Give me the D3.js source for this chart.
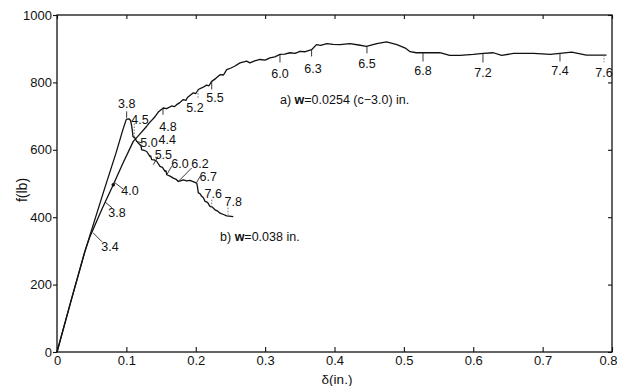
<!DOCTYPE html>
<html><head><meta charset="utf-8">
<script src="https://cdn.jsdelivr.net/npm/d3@7"></script>
<style>body{margin:0;background:#fff}svg{display:block}text{font-family:"Liberation Sans",Arial,sans-serif;fill:#111}</style>
</head><body><svg id="c" width="617" height="386"></svg>
<script>
const xTicks=[0,0.1,0.2,0.3,0.4,0.5,0.6,0.7,0.8];
const xTickLabels=["0","0.1","0.2","0.3","0.4","0.5","0.6","0.7","0.8"];
const yTicks=[0,200,400,600,800,1000];
const yTickLabels=["0","200","400","600","800","1000"];
// curve a: w = 0.0254 (c-3.0) in.
const curveA=[[0,0],[0.02,150],[0.04,297],[0.0476,343],[0.065,425],[0.0811,496],[0.095,560],[0.11,625],[0.12,648],[0.1293,670],[0.134,682],[0.14,695],[0.146,712],[0.1532,724],[0.158,722],[0.1653,730],[0.169,728],[0.1725,734],[0.177,740],[0.182,749],[0.186,747],[0.188,755],[0.1965,769],[0.2,767],[0.2037,779],[0.21,785],[0.2157,792],[0.219,790],[0.223,803],[0.229,812],[0.235,823],[0.24,822],[0.2446,838],[0.25,842],[0.256,848],[0.2638,858],[0.2734,863],[0.278,858],[0.285,864],[0.2926,868],[0.3,866],[0.307,873],[0.314,876],[0.3214,883],[0.328,884],[0.3359,888],[0.343,886],[0.3503,892],[0.358,891],[0.367,897],[0.374,912],[0.38,910],[0.389,915],[0.398,913],[0.408,912],[0.422,915],[0.435,911],[0.446,907],[0.461,915],[0.475,920],[0.49,912],[0.502,902],[0.509,891],[0.518,888],[0.528,888],[0.552,888],[0.566,880],[0.581,880],[0.6,883],[0.6145,886],[0.629,888],[0.641,880],[0.658,886],[0.687,886],[0.711,883],[0.725,886],[0.742,890],[0.763,881],[0.792,881]];
// curve b: w = 0.038 in.
const curveB=[[0,0],[0.02,150],[0.04,297],[0.068,481],[0.085,590],[0.095,660],[0.0995,688],[0.1005,691],[0.104,692],[0.106,687],[0.1077,670],[0.109,650],[0.1095,639],[0.112,636],[0.1149,625],[0.1196,615],[0.121,612],[0.1221,600],[0.126,598],[0.1293,595],[0.1341,580],[0.135,582],[0.1365,571],[0.14,570],[0.1437,566],[0.1485,551],[0.152,548],[0.1557,536],[0.157,538],[0.1581,526],[0.163,522],[0.1676,516],[0.172,512],[0.1748,506],[0.178,508],[0.182,511],[0.187,508],[0.1917,509],[0.197,505],[0.2014,501],[0.2025,490],[0.2037,472],[0.206,470],[0.2086,462],[0.211,458],[0.2133,447],[0.217,444],[0.2205,432],[0.224,430],[0.2277,422],[0.231,419],[0.235,412],[0.24,408],[0.2446,404],[0.2541,402]];
// point labels: text, text position [delta,f], leader from [delta,f] to [delta,f], dotted?
const labelText=["6.0","6.3","6.5","6.8","7.2","7.4","7.6","5.5","5.2","4.8","4.4","4.0","3.8","3.4","3.8","4.5","5.0","5.5","6.0","6.2","6.7","7.6","7.8"];
const labelPos=[[0.3214,814],[0.3689,829],[0.4468,844],[0.5276,823],[0.614,817],[0.725,823],[0.7885,817],[0.2277,743],[0.199,713],[0.16,657],[0.159,618],[0.1052,467],[0.0865,401],[0.0764,300],[0.1004,725],[0.1196,678],[0.1326,609],[0.1533,574],[0.1773,547],[0.2061,547],[0.2181,508],[0.2253,458],[0.2541,434]];
const leaderFrom=[[0.3214,883],[0.367,897],[0.4468,906],[0.5276,889],[0.614,886],[0.725,886],[0.7885,881],[0.223,802],[0.2032,777],[0.1528,723],null,[0.0836,502],[0.0692,445],[0.0519,354],[0.1004,695],[0.1114,678],[0.1149,625],[0.1389,556],[0.1581,526],[0.1748,506],[0.2014,503],[0.223,452],[0.2465,428]];
const leaderTo=[[0.3214,859],[0.367,877],[0.4468,886],[0.5276,862],[0.614,859],[0.725,862],[0.7885,860],[0.223,779],[0.2032,752],[0.1528,704],null,[0.0951,484],[0.0793,428],[0.0649,327],[0.1004,714],[0.1114,632],[0.123,620],[0.1456,580],[0.1653,551],[0.1941,546],[0.2061,521],[0.223,431],[0.2465,407]];
const leaderDotted=[0,0,0,0,0,0,1,0,1,0,0,0,0,0,0,1,0,0,0,0,0,1,1];
const legendText=["a) ","w","=0.0254 (c\u22123.0) in."];
const legendPosA=[0.3214,737];
const legendTextB=["b) ","w","=0.038 in."];
const legendPosB=[0.235,330];
const markerPts=[[0.0811,496]];

const svg=d3.select("#c");
const x=d3.scaleLinear().domain([0,0.8]).range([57,612]);
const y=d3.scaleLinear().domain([0,1000]).range([352,15]);

// frame
svg.append("rect").attr("x",57).attr("y",15).attr("width",555).attr("height",337)
  .attr("fill","none").attr("stroke","#111").attr("stroke-width",1.3);

const gx=svg.append("g").attr("transform","translate(0,352)")
  .call(d3.axisBottom(x).tickValues(xTicks).tickFormat((d,i)=>xTickLabels[i]).tickSizeInner(-5).tickSizeOuter(0).tickPadding(4));
gx.selectAll(".tick").filter(d=>d===0.8).select("text").attr("dx",-4);
const gxt=svg.append("g").attr("transform","translate(0,15)")
  .call(d3.axisTop(x).tickValues(xTicks).tickFormat("").tickSizeInner(-4).tickSizeOuter(0));
const gy=svg.append("g").attr("transform","translate(57,0)")
  .call(d3.axisLeft(y).tickValues(yTicks).tickFormat((d,i)=>yTickLabels[i]).tickSizeInner(4).tickSizeOuter(0).tickPadding(1));
const gyr=svg.append("g").attr("transform","translate(612,0)")
  .call(d3.axisRight(y).tickValues(yTicks).tickFormat("").tickSizeInner(-4).tickSizeOuter(0));
[gx,gxt,gy,gyr].forEach(g=>{g.select(".domain").remove();g.selectAll("line").attr("stroke","#111").attr("stroke-width",1.1);
  g.selectAll("text").attr("font-size",13).attr("font-family","Liberation Sans, Arial, sans-serif").attr("fill","#111");});

const line=d3.line().x(d=>x(d[0])).y(d=>y(d[1]));
svg.append("path").datum(curveA).attr("d",line).attr("fill","none").attr("stroke","#111").attr("stroke-width",1.3).attr("stroke-linejoin","round");
svg.append("path").datum(curveB).attr("d",line).attr("fill","none").attr("stroke","#111").attr("stroke-width",1.3).attr("stroke-linejoin","round");

svg.selectAll("circle.m").data(markerPts).join("circle").attr("cx",d=>x(d[0])).attr("cy",d=>y(d[1])).attr("r",1.8).attr("fill","#111");

labelText.forEach((t,i)=>{
  if(leaderFrom[i]){
    svg.append("line").attr("x1",x(leaderFrom[i][0])).attr("y1",y(leaderFrom[i][1]))
      .attr("x2",x(leaderTo[i][0])).attr("y2",y(leaderTo[i][1]))
      .attr("stroke",leaderDotted[i]?"#666":"#222").attr("stroke-width",0.9)
      .attr("stroke-dasharray",leaderDotted[i]?"1.5,1.5":null);
  }
  svg.append("text").attr("x",x(labelPos[i][0])).attr("y",y(labelPos[i][1]))
    .attr("text-anchor","middle").attr("font-size",12.5).text(t);
});

function legend(parts,pos){
  const t=svg.append("text").attr("x",x(pos[0])).attr("y",y(pos[1])).attr("font-size",12.5);
  parts.forEach((p,i)=>t.append("tspan").attr("font-weight",i===1?"bold":null).text(p));
}
legend(legendText,legendPosA);
legend(legendTextB,legendPosB);

svg.append("text").attr("transform","translate(27,190) rotate(-90)").attr("text-anchor","middle").attr("font-size",14).text("f(lb)");
svg.append("text").attr("x",337).attr("y",384).attr("text-anchor","middle").attr("font-size",13.5).text("\u03b4(in.)");
</script></body></html>
